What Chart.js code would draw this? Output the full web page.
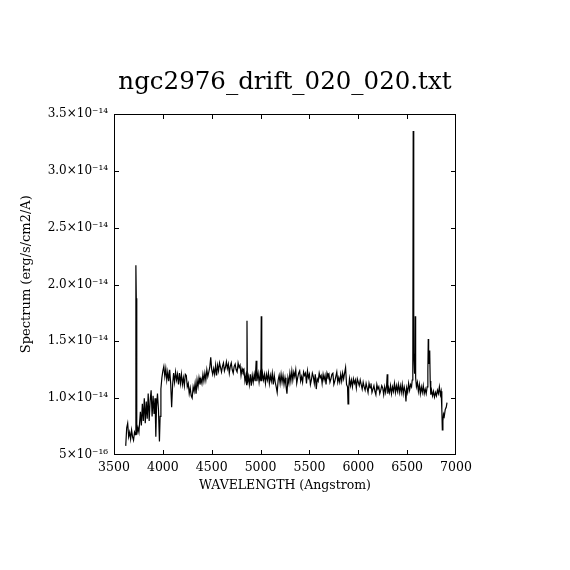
<!DOCTYPE html>
<html>
<head>
<meta charset="utf-8">
<script src="https://cdn.jsdelivr.net/npm/chart.js@4/dist/chart.umd.min.js"></script>
<style>
  html, body { margin: 0; padding: 0; background: #fff; }
  #spec { display: block; }
</style>
</head>
<body>
<canvas id="spec" width="570" height="570"></canvas>
<script>
// wavelength (Angstrom) and flux (units of 1e-14 erg/s/cm2/A)
const wavelength = [
  3620, 3630, 3640, 3650, 3660, 3670, 3680, 3690, 3700, 3710, 3718, 3724, 3728, 3733, 3745, 3755,
  3770, 3780, 3790, 3800, 3810, 3820, 3830, 3840, 3850, 3860, 3870, 3880, 3890, 3900, 3910, 3920,
  3928, 3935, 3945, 3955, 3965, 3972, 3980, 3990, 4000, 4010, 4020, 4030, 4040, 4050, 4060, 4070,
  4080, 4090, 4100, 4110, 4120, 4130, 4140, 4150, 4160, 4170, 4180, 4190, 4200, 4210, 4220, 4230,
  4240, 4250, 4260, 4270, 4280, 4290, 4300, 4310, 4320, 4330, 4340, 4350, 4360, 4370, 4380, 4390,
  4400, 4410, 4420, 4430, 4440, 4450, 4460, 4470, 4480, 4490, 4500, 4510, 4520, 4530, 4540, 4550,
  4560, 4570, 4580, 4590, 4600, 4610, 4620, 4630, 4640, 4650, 4660, 4670, 4680, 4690, 4700, 4710,
  4720, 4730, 4740, 4750, 4760, 4770, 4780, 4790, 4800, 4810, 4820, 4830, 4840, 4850, 4857, 4861,
  4865, 4875, 4885, 4895, 4905, 4915, 4925, 4935, 4945, 4955, 4962, 4975, 4985, 4995, 5003, 5007,
  5012, 5020, 5030, 5040, 5050, 5060, 5070, 5080, 5090, 5100, 5110, 5120, 5130, 5140, 5150, 5160,
  5170, 5180, 5190, 5200, 5210, 5220, 5230, 5240, 5250, 5260, 5270, 5280, 5290, 5300, 5310, 5320,
  5330, 5340, 5350, 5360, 5370, 5380, 5390, 5400, 5410, 5420, 5430, 5440, 5450, 5460, 5470, 5480,
  5490, 5500, 5510, 5520, 5530, 5540, 5550, 5560, 5570, 5580, 5590, 5600, 5610, 5620, 5630, 5640,
  5650, 5660, 5670, 5680, 5690, 5700, 5710, 5720, 5730, 5740, 5750, 5760, 5770, 5780, 5790, 5800,
  5810, 5820, 5830, 5840, 5850, 5860, 5870, 5880, 5890, 5895, 5902, 5910, 5920, 5930, 5940, 5950,
  5960, 5970, 5980, 5990, 6000, 6010, 6020, 6030, 6040, 6050, 6060, 6070, 6080, 6090, 6100, 6110,
  6120, 6130, 6140, 6150, 6160, 6170, 6180, 6190, 6200, 6210, 6220, 6230, 6240, 6250, 6260, 6270,
  6280, 6290, 6296, 6302, 6310, 6320, 6330, 6340, 6350, 6360, 6370, 6380, 6390, 6400, 6410, 6420,
  6430, 6440, 6450, 6460, 6470, 6480, 6488, 6495, 6505, 6515, 6525, 6535, 6545, 6552, 6558, 6562,
  6565, 6570, 6576, 6580, 6583, 6587, 6595, 6605, 6615, 6625, 6635, 6645, 6655, 6665, 6675, 6685,
  6695, 6705, 6712, 6716, 6720, 6726, 6731, 6736, 6742, 6750, 6760, 6770, 6780, 6790, 6800, 6810,
  6820, 6830, 6840, 6848, 6855, 6860, 6866, 6872, 6880, 6890, 6900, 6908
];
const flux = [
  0.58, 0.74, 0.78, 0.66, 0.70, 0.64, 0.72, 0.66, 0.63, 0.70, 0.68, 2.17, 1.88, 0.68, 0.74, 0.70,
  0.88, 0.76, 0.95, 0.80, 1.00, 0.78, 0.97, 0.82, 1.04, 0.80, 0.98, 1.07, 0.84, 1.02, 0.86, 1.00,
  0.66, 0.92, 1.04, 0.90, 0.62, 0.84, 1.08, 1.18, 1.24, 1.28, 1.19, 1.26, 1.16, 1.23, 1.15, 1.25,
  1.13, 0.92, 1.12, 1.22, 1.14, 1.23, 1.16, 1.21, 1.12, 1.22, 1.13, 1.21, 1.12, 1.18, 1.11, 1.21,
  1.20, 1.10, 1.13, 1.04, 1.09, 1.02, 1.00, 1.10, 1.06, 1.13, 1.04, 1.16, 1.10, 1.18, 1.12, 1.17,
  1.13, 1.21, 1.15, 1.22, 1.16, 1.25, 1.19, 1.23, 1.27, 1.36, 1.25, 1.21, 1.26, 1.21, 1.29, 1.20,
  1.29, 1.24, 1.31, 1.27, 1.23, 1.28, 1.31, 1.24, 1.27, 1.32, 1.26, 1.30, 1.22, 1.28, 1.31, 1.25,
  1.22, 1.28, 1.30, 1.25, 1.23, 1.31, 1.27, 1.29, 1.20, 1.26, 1.23, 1.25, 1.15, 1.20, 1.12, 1.68,
  1.13, 1.19, 1.12, 1.21, 1.11, 1.20, 1.14, 1.21, 1.15, 1.33, 1.15, 1.22, 1.14, 1.21, 1.15, 1.72,
  1.15, 1.22, 1.16, 1.21, 1.13, 1.21, 1.16, 1.22, 1.13, 1.20, 1.15, 1.22, 1.12, 1.20, 1.14, 1.10,
  1.05, 1.16, 1.20, 1.13, 1.21, 1.14, 1.20, 1.12, 1.18, 1.11, 1.04, 1.18, 1.13, 1.22, 1.15, 1.24,
  1.16, 1.23, 1.19, 1.25, 1.13, 1.18, 1.22, 1.24, 1.15, 1.19, 1.14, 1.23, 1.20, 1.22, 1.13, 1.24,
  1.18, 1.21, 1.12, 1.16, 1.22, 1.19, 1.13, 1.21, 1.08, 1.17, 1.15, 1.22, 1.18, 1.20, 1.13, 1.21,
  1.16, 1.20, 1.12, 1.22, 1.19, 1.21, 1.14, 1.17, 1.21, 1.22, 1.12, 1.15, 1.19, 1.23, 1.14, 1.18,
  1.14, 1.21, 1.15, 1.22, 1.17, 1.22, 1.27, 1.12, 1.10, 0.95, 1.09, 1.17, 1.11, 1.16, 1.10, 1.17,
  1.13, 1.16, 1.09, 1.17, 1.14, 1.11, 1.16, 1.12, 1.08, 1.14, 1.10, 1.07, 1.13, 1.09, 1.05, 1.13,
  1.09, 1.13, 1.05, 1.08, 1.11, 1.06, 1.03, 1.12, 1.08, 1.10, 1.04, 1.07, 1.11, 1.09, 1.03, 1.10,
  1.05, 1.11, 1.21, 1.04, 1.09, 1.05, 1.11, 1.04, 1.10, 1.06, 1.13, 1.05, 1.11, 1.06, 1.12, 1.05,
  1.11, 1.05, 1.12, 1.04, 1.10, 1.06, 0.97, 1.09, 1.05, 1.13, 1.07, 1.12, 1.10, 1.16, 1.32, 3.35,
  3.16, 1.40, 1.22, 1.30, 1.72, 1.18, 1.10, 1.14, 1.06, 1.12, 1.04, 1.10, 1.05, 1.11, 1.04, 1.08,
  1.04, 1.10, 1.25, 1.52, 1.30, 1.36, 1.42, 1.15, 1.03, 1.07, 1.02, 1.06, 1.01, 1.05, 1.02, 1.07,
  1.04, 1.10, 1.03, 1.06, 0.90, 0.72, 0.80, 0.86, 0.84, 0.90, 0.92, 0.96
];

const xTicks = [3500, 4000, 4500, 5000, 5500, 6000, 6500, 7000];
const yTicks = [0.5, 1.0, 1.5, 2.0, 2.5, 3.0, 3.5];
const yTickLabels = ['5×10⁻¹⁶', '1.0×10⁻¹⁴', '1.5×10⁻¹⁴', '2.0×10⁻¹⁴', '2.5×10⁻¹⁴', '3.0×10⁻¹⁴', '3.5×10⁻¹⁴'];

const serif = "'DejaVu Serif', 'Liberation Serif', serif";

// box around the plot with short inward ticks on all four sides (not at the corners)
const frameTicks = {
  id: 'frameTicks',
  afterDraw(chart) {
    const { ctx, chartArea: a, scales: { x, y } } = chart;
    const len = 5;
    ctx.save();
    ctx.strokeStyle = '#000';
    ctx.lineWidth = 1;
    ctx.strokeRect(a.left + 0.5, a.top + 0.5, a.right - a.left - 1, a.bottom - a.top - 1);
    ctx.beginPath();
    x.ticks.slice(1, -1).forEach(t => {
      const px = Math.round(x.getPixelForValue(t.value)) + 0.5;
      ctx.moveTo(px, a.bottom); ctx.lineTo(px, a.bottom - len);
      ctx.moveTo(px, a.top); ctx.lineTo(px, a.top + len);
    });
    y.ticks.slice(1, -1).forEach(t => {
      const py = Math.round(y.getPixelForValue(t.value)) + 0.5;
      ctx.moveTo(a.left, py); ctx.lineTo(a.left + len, py);
      ctx.moveTo(a.right, py); ctx.lineTo(a.right - len, py);
    });
    ctx.stroke();
    ctx.restore();
  }
};

const ctx = document.getElementById('spec').getContext('2d');
new Chart(ctx, {
  type: 'line',
  data: {
    datasets: [{
      data: wavelength.map((w, i) => ({ x: w, y: flux[i] })),
      borderColor: '#000',
      borderWidth: 1.2,
      pointRadius: 0,
      tension: 0,
      fill: false
    }]
  },
  options: {
    responsive: false,
    animation: false,
    devicePixelRatio: 1,
    layout: { padding: 0 },
    plugins: {
      legend: { display: false },
      tooltip: { enabled: false },
      title: {
        display: true,
        text: 'ngc2976_drift_020_020.txt',
        color: '#000',
        font: { family: serif, size: 24.5, weight: 'normal' },
        padding: { top: 68, bottom: 16.6 }
      }
    },
    scales: {
      x: {
        type: 'linear',
        min: 3500,
        max: 7000,
        afterBuildTicks: s => { s.ticks = xTicks.map(v => ({ value: v })); },
        afterFit: s => { s.height = 115; },
        grid: { display: false, drawTicks: false },
        border: { display: false },
        ticks: {
          color: '#000',
          padding: 5,
          maxRotation: 0,
          font: { family: serif, size: 12.5 },
          callback: v => String(v)
        },
        title: {
          display: true,
          text: 'WAVELENGTH (Angstrom)',
          color: '#000',
          font: { family: serif, size: 12.5 },
          padding: { top: 4, bottom: 77 }
        }
      },
      y: {
        type: 'linear',
        min: 0.5,
        max: 3.5,
        afterBuildTicks: s => { s.ticks = yTicks.map(v => ({ value: v })); },
        afterFit: s => { s.width = 114; },
        grid: { display: false, drawTicks: false },
        border: { display: false },
        ticks: {
          color: '#000',
          padding: 6,
          font: { family: serif, size: 12 },
          callback: (v, i) => yTickLabels[i]
        },
        title: {
          display: true,
          // leading spaces nudge the label up a little, as in the original
          text: '     Spectrum (erg/s/cm2/A)',
          color: '#000',
          font: { family: serif, size: 13 },
          padding: { top: 19, bottom: 4 }
        }
      },
      // empty right-hand axis so the plot box sits centred like the original
      yRight: {
        type: 'linear',
        position: 'right',
        min: 0.5,
        max: 3.5,
        afterFit: s => { s.width = 114; },
        grid: { display: false, drawTicks: false },
        border: { display: false },
        ticks: { display: false }
      }
    }
  },
  plugins: [frameTicks]
});
</script>
</body>
</html>
